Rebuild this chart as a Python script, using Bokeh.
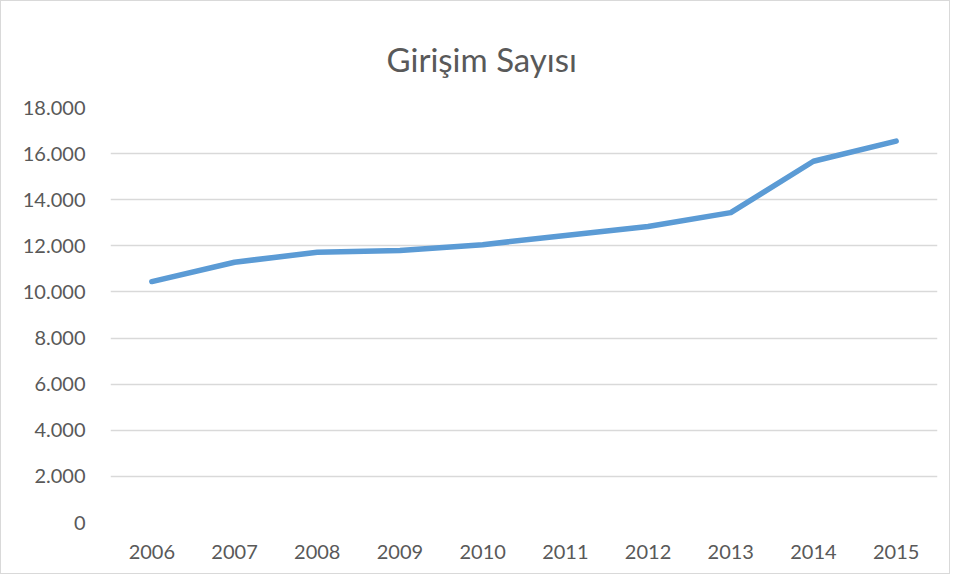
from bokeh.plotting import figure
from bokeh.embed import file_html
from bokeh.resources import INLINE
from bokeh.models import FixedTicker

years = ["2006", "2007", "2008", "2009", "2010", "2011", "2012", "2013", "2014", "2015"]
girisim = [10450, 11290, 11720, 11800, 12050, 12450, 12840, 13440, 15670, 16540]
y_ticks = [0, 2000, 4000, 6000, 8000, 10000, 12000, 14000, 16000, 18000]
y_labels = ["0", "2.000", "4.000", "6.000", "8.000", "10.000", "12.000", "14.000", "16.000", "18.000"]

FONT = "Lato"
GREY = "#595959"

p = figure(x_range=years, y_range=(0, 18000), width=950, height=574,
           output_backend="svg", toolbar_location=None,
           title="Girişim Sayısı",
           min_border_left=109, min_border_right=14, min_border_top=106, min_border_bottom=53)

p.styles = {"border": "1px solid #d9d9d9"}
p.outline_line_color = None
p.background_fill_color = "white"
p.border_fill_color = "white"

p.title.align = "left"
p.title.text_font = FONT
p.title.text_font_size = "33px"
p.title.text_font_style = "normal"
p.title.text_color = GREY
p.title.standoff = 58
p.title.offset = 276

p.line(x=years, y=girisim, line_color="#5B9BD5", line_width=5.5, line_cap="round", line_join="round")

p.yaxis.ticker = FixedTicker(ticks=y_ticks)
p.yaxis.major_label_overrides = {t: l for t, l in zip(y_ticks, y_labels)}
for ax in (p.xaxis[0], p.yaxis[0]):
    ax.axis_line_color = None
    ax.major_tick_line_color = None
    ax.minor_tick_line_color = None
    ax.major_label_text_font = FONT
    ax.major_label_text_font_size = "20px"
    ax.major_label_text_color = GREY
p.yaxis.major_label_standoff = 19
p.xaxis.major_label_standoff = 16

p.xgrid.grid_line_color = None
p.ygrid.grid_line_color = "#d9d9d9"
p.ygrid.grid_line_width = 1.5
p.x_range.range_padding = 0

open("out.html", "w").write(file_html(p, INLINE))
